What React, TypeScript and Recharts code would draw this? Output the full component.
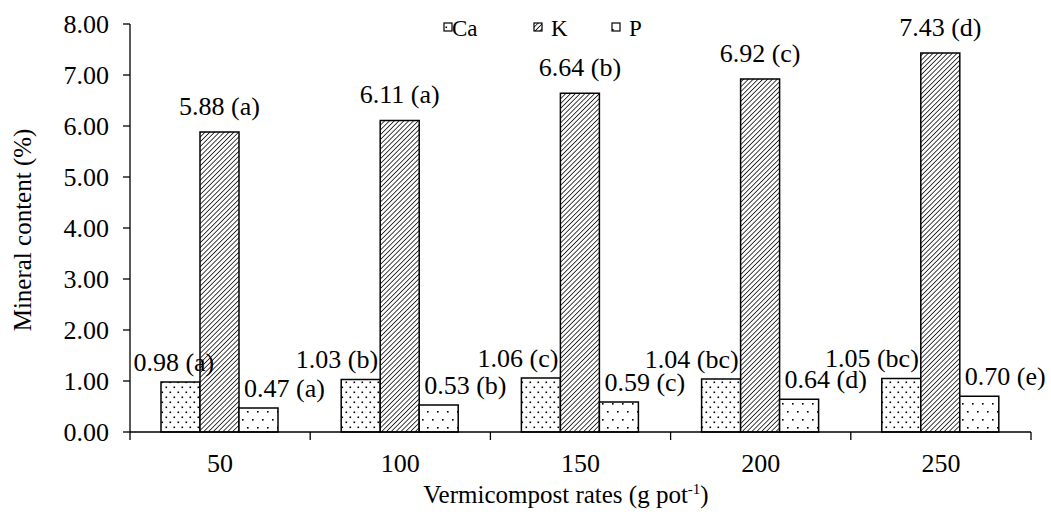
import { BarChart, Bar, XAxis, YAxis, Legend, LabelList } from "recharts";

const rates = ["50", "100", "150", "200", "250"];
const ca = [0.98, 1.03, 1.06, 1.04, 1.05];
const caLetters = ["a", "b", "c", "bc", "bc"];
const k = [5.88, 6.11, 6.64, 6.92, 7.43];
const kLetters = ["a", "a", "b", "c", "d"];
const p = [0.47, 0.53, 0.59, 0.64, 0.7];
const pLetters = ["a", "b", "c", "d", "e"];
const yTicks = [0, 1, 2, 3, 4, 5, 6, 7, 8];

const data = rates.map((rate, i) => ({ rate, Ca: ca[i], K: k[i], P: p[i] }));

const FONT = "Liberation Serif, Times New Roman, serif";
const W = 1051;
const H = 524;
const PLOT_LEFT = 130;
const PLOT_RIGHT = 20;
const BAND = (W - PLOT_LEFT - PLOT_RIGHT) / rates.length;

// rough Times width so the first label does not run over the axis
function textWidth(s: string, size: number) {
  let w = 0;
  for (const c of s) {
    if (/[0-9]/.test(c)) w += 0.5;
    else if (c === "." || c === " ") w += 0.25;
    else if (c === "(" || c === ")") w += 0.333;
    else w += 0.46;
  }
  return w * size;
}

const labelText = (v: any, letters: string[], i: number) =>
  `${Number(v).toFixed(2)} (${letters[i]})`;

const caLabel = (props: any) => {
  const { x, y, width, value, index } = props;
  const t = labelText(value, caLetters, index);
  const end = Math.max(x + width - 2, PLOT_LEFT + 3 + textWidth(t, 26));
  return (
    <text x={end} y={y - 11} textAnchor="end" fontFamily={FONT} fontSize={26} fill="#000">
      {t}
    </text>
  );
};

const kLabel = (props: any) => {
  const { x, y, width, value, index } = props;
  return (
    <text x={x + width / 2} y={y - 17} textAnchor="middle" fontFamily={FONT} fontSize={26} fill="#000">
      {labelText(value, kLetters, index)}
    </text>
  );
};

const pLabel = (props: any) => {
  const { x, y, value, index } = props;
  return (
    <text x={x + 5} y={y - 11} textAnchor="start" fontFamily={FONT} fontSize={26} fill="#000">
      {labelText(value, pLetters, index)}
    </text>
  );
};

const RateTick = (props: any) => {
  const { x, y, payload, index } = props;
  return (
    <g>
      <line x1={x - BAND / 2} x2={x - BAND / 2} y1={y} y2={y + 8} stroke="#000" strokeWidth={1.3} />
      {index === rates.length - 1 && (
        <line x1={x + BAND / 2} x2={x + BAND / 2} y1={y} y2={y + 8} stroke="#000" strokeWidth={1.3} />
      )}
      <text x={x} y={y + 40} textAnchor="middle" fontFamily={FONT} fontSize={26} fill="#000">
        {payload.value}
      </text>
    </g>
  );
};

const YTitle = () => (
  <text
    x={31}
    y={230}
    transform="rotate(-90, 31, 230)"
    textAnchor="middle"
    fontFamily={FONT}
    fontSize={25}
    fill="#000"
  >
    Mineral content (%)
  </text>
);

const XTitle = () => (
  <text x={566} y={503} textAnchor="middle" fontFamily={FONT} fontSize={25} fill="#000">
    <tspan>Vermicompost rates (g pot</tspan>
    <tspan dy={-9} fontSize={15}>-1</tspan>
    <tspan dy={9}>)</tspan>
  </text>
);

const legendItems = [
  { name: "Ca", fill: "url(#caDots)", box: 4, text: 12 },
  { name: "K", fill: "url(#kHatch)", box: 94, text: 111 },
  { name: "P", fill: "url(#pDots)", box: 172, text: 189 },
];

const LegendBox = () => (
  <svg width={230} height={34}>
    {legendItems.map((it) => (
      <g key={it.name}>
        <rect x={it.box} y={13} width={8} height={8} fill="#fff" />
        <rect x={it.box} y={13} width={8} height={8} fill={it.fill} stroke="#000" strokeWidth={1.2} />
        <text x={it.text} y={26} fontFamily={FONT} fontSize={23} fill="#000">
          {it.name}
        </text>
      </g>
    ))}
  </svg>
);

export default function App() {
  return (
    <div>
      <style>{`body{margin:0;background:#fff}`}</style>
      <BarChart
        width={W}
        height={H}
        data={data}
        margin={{ top: 24, right: PLOT_RIGHT, left: 0, bottom: 0 }}
        barCategoryGap={31}
        barGap={0}
      >
        <defs>
          <pattern id="caDots" width={8} height={10} patternUnits="userSpaceOnUse">
            <rect width={8} height={10} fill="#fff" />
            <rect x={1.5} y={1.5} width={1.6} height={1.6} fill="#000" />
            <rect x={5.5} y={6.5} width={1.6} height={1.6} fill="#000" />
          </pattern>
          <pattern id="pDots" width={10} height={16} patternUnits="userSpaceOnUse">
            <rect width={10} height={16} fill="#fff" />
            <rect x={2} y={3} width={1.6} height={1.6} fill="#000" />
            <rect x={7} y={11} width={1.6} height={1.6} fill="#000" />
          </pattern>
          <pattern
            id="kHatch"
            width={3.4}
            height={3.4}
            patternUnits="userSpaceOnUse"
            patternTransform="rotate(45)"
          >
            <rect width={3.4} height={3.4} fill="#fff" />
            <line x1={0} y1={0} x2={0} y2={3.4} stroke="#000" strokeWidth={1.5} />
          </pattern>
        </defs>
        <XAxis
          dataKey="rate"
          tickLine={false}
          tickSize={0}
          tickMargin={0}
          axisLine={{ stroke: "#000", strokeWidth: 1.3 }}
          tick={<RateTick />}
          height={92}
          interval={0}
          label={<XTitle />}
        />
        <YAxis
          domain={[0, 8]}
          ticks={yTicks}
          tickFormatter={(v: number) => v.toFixed(2)}
          width={PLOT_LEFT}
          tickSize={7}
          tickMargin={14}
          axisLine={{ stroke: "#000", strokeWidth: 1.3 }}
          tickLine={{ stroke: "#000", strokeWidth: 1.3 }}
          tick={{ fill: "#000", fontSize: 26, fontFamily: FONT }}
          label={<YTitle />}
        />
        <Legend
          verticalAlign="middle"
          align="center"
          layout="horizontal"
          wrapperStyle={{ top: 10, left: 440, width: 230, height: 34 }}
          content={() => <LegendBox />}
        />
        <Bar dataKey="Ca" fill="url(#caDots)" stroke="#000" strokeWidth={1.5} isAnimationActive={false}>
          <LabelList dataKey="Ca" content={caLabel} />
        </Bar>
        <Bar dataKey="K" fill="url(#kHatch)" stroke="#000" strokeWidth={1.5} isAnimationActive={false}>
          <LabelList dataKey="K" content={kLabel} />
        </Bar>
        <Bar dataKey="P" fill="url(#pDots)" stroke="#000" strokeWidth={1.5} isAnimationActive={false}>
          <LabelList dataKey="P" content={pLabel} />
        </Bar>
      </BarChart>
    </div>
  );
}
